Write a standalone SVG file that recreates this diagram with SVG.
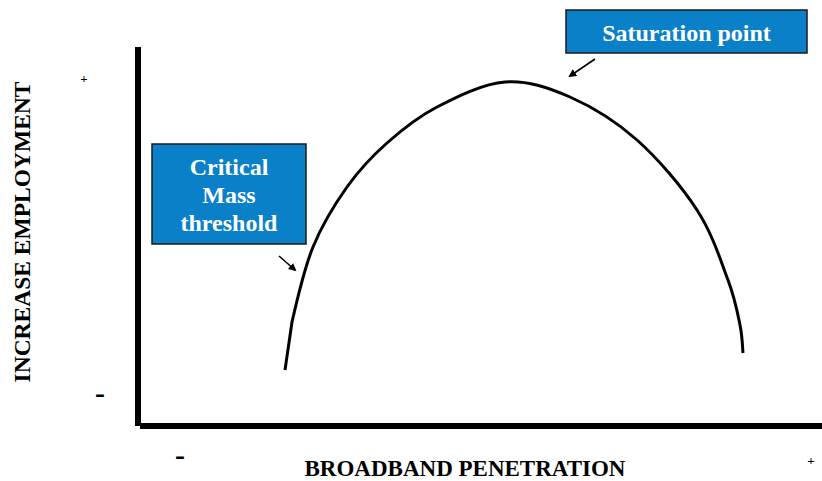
<svg xmlns="http://www.w3.org/2000/svg" width="822" height="481" viewBox="0 0 822 481">
  <style>
    .lbl { font-family: "Liberation Serif", "Times New Roman", serif; font-weight: bold; fill: #000; }
    .box { fill: #0A80C8; stroke: #1a1a1a; stroke-width: 1.5; }
    .boxtxt { font-family: "Liberation Serif", "Times New Roman", serif; font-weight: bold; font-size: 24px; fill: #fff; text-anchor: middle; }
    .axis { stroke: #000; stroke-width: 6; fill: none; }
    .curve { stroke: #000; stroke-width: 3; fill: none; stroke-linecap: butt; stroke-linejoin: round; }
    .pointer { stroke: #000; stroke-width: 1.6; fill: none; }
  </style>
  <defs>
    <marker id="head" markerWidth="8" markerHeight="8" refX="6" refY="4" orient="auto" markerUnits="userSpaceOnUse">
      <path d="M0,0 L8,4 L0,8 Z" fill="#000"/>
    </marker>
  </defs>
  <rect width="822" height="481" fill="#fff"/>

  <!-- axes -->
  <g id="axes">
    <line class="axis" x1="138" y1="47" x2="138" y2="426"/>
    <line class="axis" x1="140" y1="426" x2="822" y2="426"/>
  </g>

  <!-- axis labels and signs -->
  <g id="axis-labels">
    <text class="lbl" font-size="23.5" text-anchor="middle" transform="translate(30,232) rotate(-90)">INCREASE EMPLOYMENT</text>
    <text class="lbl" font-size="23" text-anchor="middle" x="465" y="476">BROADBAND PENETRATION</text>
    <text class="lbl" font-size="13" text-anchor="middle" x="84" y="83">+</text>
    <text class="lbl" font-size="13" text-anchor="middle" x="811" y="465">+</text>
    <text class="lbl" font-size="30" text-anchor="middle" x="100" y="403">-</text>
    <text class="lbl" font-size="30" text-anchor="middle" x="180" y="465">-</text>
  </g>

  <!-- response curve -->
  <g id="curve">
    <path class="curve" d="M285,370 L292,322
      C296.7,301.5 303.8,269.5 313,247
      C322.2,224.5 334.7,204.3 347,187
      C359.3,169.7 372,156.3 387,143
      C402,129.7 417.3,117.2 437,107
      C456.7,96.8 482.8,83.7 505,82
      C527.2,80.3 548,87.3 570,97
      C592,106.7 615.8,121.2 637,140
      C658.2,158.8 681.8,186.7 697,210
      C712.2,233.3 720.8,260.8 728,280
      C735.2,299.2 737.5,312.8 740,325
      C742.5,337.2 742.5,348.3 743,353"/>
  </g>

  <!-- callouts -->
  <g id="saturation">
    <rect class="box" x="566" y="10" width="241" height="43"/>
    <text class="boxtxt" x="686.5" y="41">Saturation point</text>
  </g>
  <g id="critical">
    <rect class="box" x="152" y="144" width="154" height="100"/>
    <text class="boxtxt" x="229" y="175">Critical</text>
    <text class="boxtxt" x="229" y="203">Mass</text>
    <text class="boxtxt" x="229" y="231">threshold</text>
  </g>

  <!-- connectors -->
  <g id="connectors">
    <line class="pointer" x1="595" y1="59" x2="570" y2="76" marker-end="url(#head)"/>
    <line class="pointer" x1="279" y1="256" x2="295" y2="270" marker-end="url(#head)"/>
  </g>
</svg>
